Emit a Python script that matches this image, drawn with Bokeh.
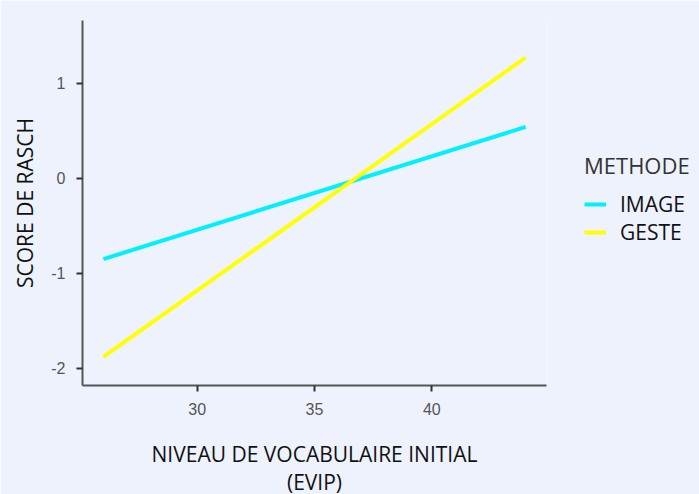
from bokeh.plotting import figure
from bokeh.models import Legend, LegendItem, Range1d, FixedTicker, PrintfTickFormatter
from bokeh.embed import file_html
from bokeh.resources import INLINE

# Data
evip = [26, 44]
image_score = [-0.85, 0.54]
geste_score = [-1.88, 1.27]
series_names = ["IMAGE", "GESTE"]
x_ticks = [30, 35, 40]
y_ticks = [-2, -1, 0, 1]

BG = "#EDF2FD"
p = figure(width=691, height=478, output_backend="svg", toolbar_location=None,
           x_range=Range1d(25.11, 44.89), y_range=Range1d(-2.18, 1.66),
           frame_width=464, frame_height=365,
           min_border_left=82, min_border_top=20, min_border_right=145, min_border_bottom=93,
           background_fill_color=BG, border_fill_color=BG, outline_line_color=None)
p.grid.visible = False

r1 = p.line(evip, image_score, line_color="#00F0FF", line_width=4)
r2 = p.line(evip, geste_score, line_color="#FFFF00", line_width=4)

for ax in (p.xaxis[0], p.yaxis[0]):
    ax.axis_line_color = "#555555"
    ax.axis_line_width = 2
    ax.major_tick_line_color = "#333333"
    ax.major_tick_line_width = 2
    ax.major_tick_out = 6
    ax.major_tick_in = 0
    ax.minor_tick_line_color = None
    ax.major_label_text_font = "Liberation Sans"
    ax.major_label_text_font_size = "16px"
    ax.major_label_text_color = "#555555"
    ax.major_label_standoff = 11
    ax.axis_label_text_font = "Open Sans"
    ax.axis_label_text_font_size = "21px"
    ax.axis_label_text_font_style = "normal"
    ax.axis_label_text_color = "#111111"
    ax.axis_label_text_line_height = 1.0

p.xaxis[0].ticker = FixedTicker(ticks=x_ticks)
p.yaxis[0].ticker = FixedTicker(ticks=y_ticks)
p.yaxis[0].formatter = PrintfTickFormatter(format="%d")
p.xaxis[0].axis_label = "NIVEAU DE VOCABULAIRE INITIAL\n(EVIP)"
p.xaxis[0].axis_label_standoff = 22
p.yaxis[0].axis_label = "SCORE DE RASCH"
p.yaxis[0].axis_label_standoff = 9

legend = Legend(items=[LegendItem(label=series_names[0], renderers=[r1]),
                       LegendItem(label=series_names[1], renderers=[r2])],
                title="METHODE", location=(38, 139),
                background_fill_alpha=0, border_line_color=None,
                title_text_font="Open Sans", title_text_font_size="22px",
                title_text_font_style="normal", title_text_color="#333333",
                title_standoff=10,
                label_text_font="Open Sans", label_text_font_size="21px",
                label_text_color="#111111",
                glyph_width=22, glyph_height=20, label_height=20,
                label_standoff=14, spacing=0,
                padding=0, margin=0)
p.add_layout(legend, "right")

open("out.html", "w").write(file_html(p, INLINE))
